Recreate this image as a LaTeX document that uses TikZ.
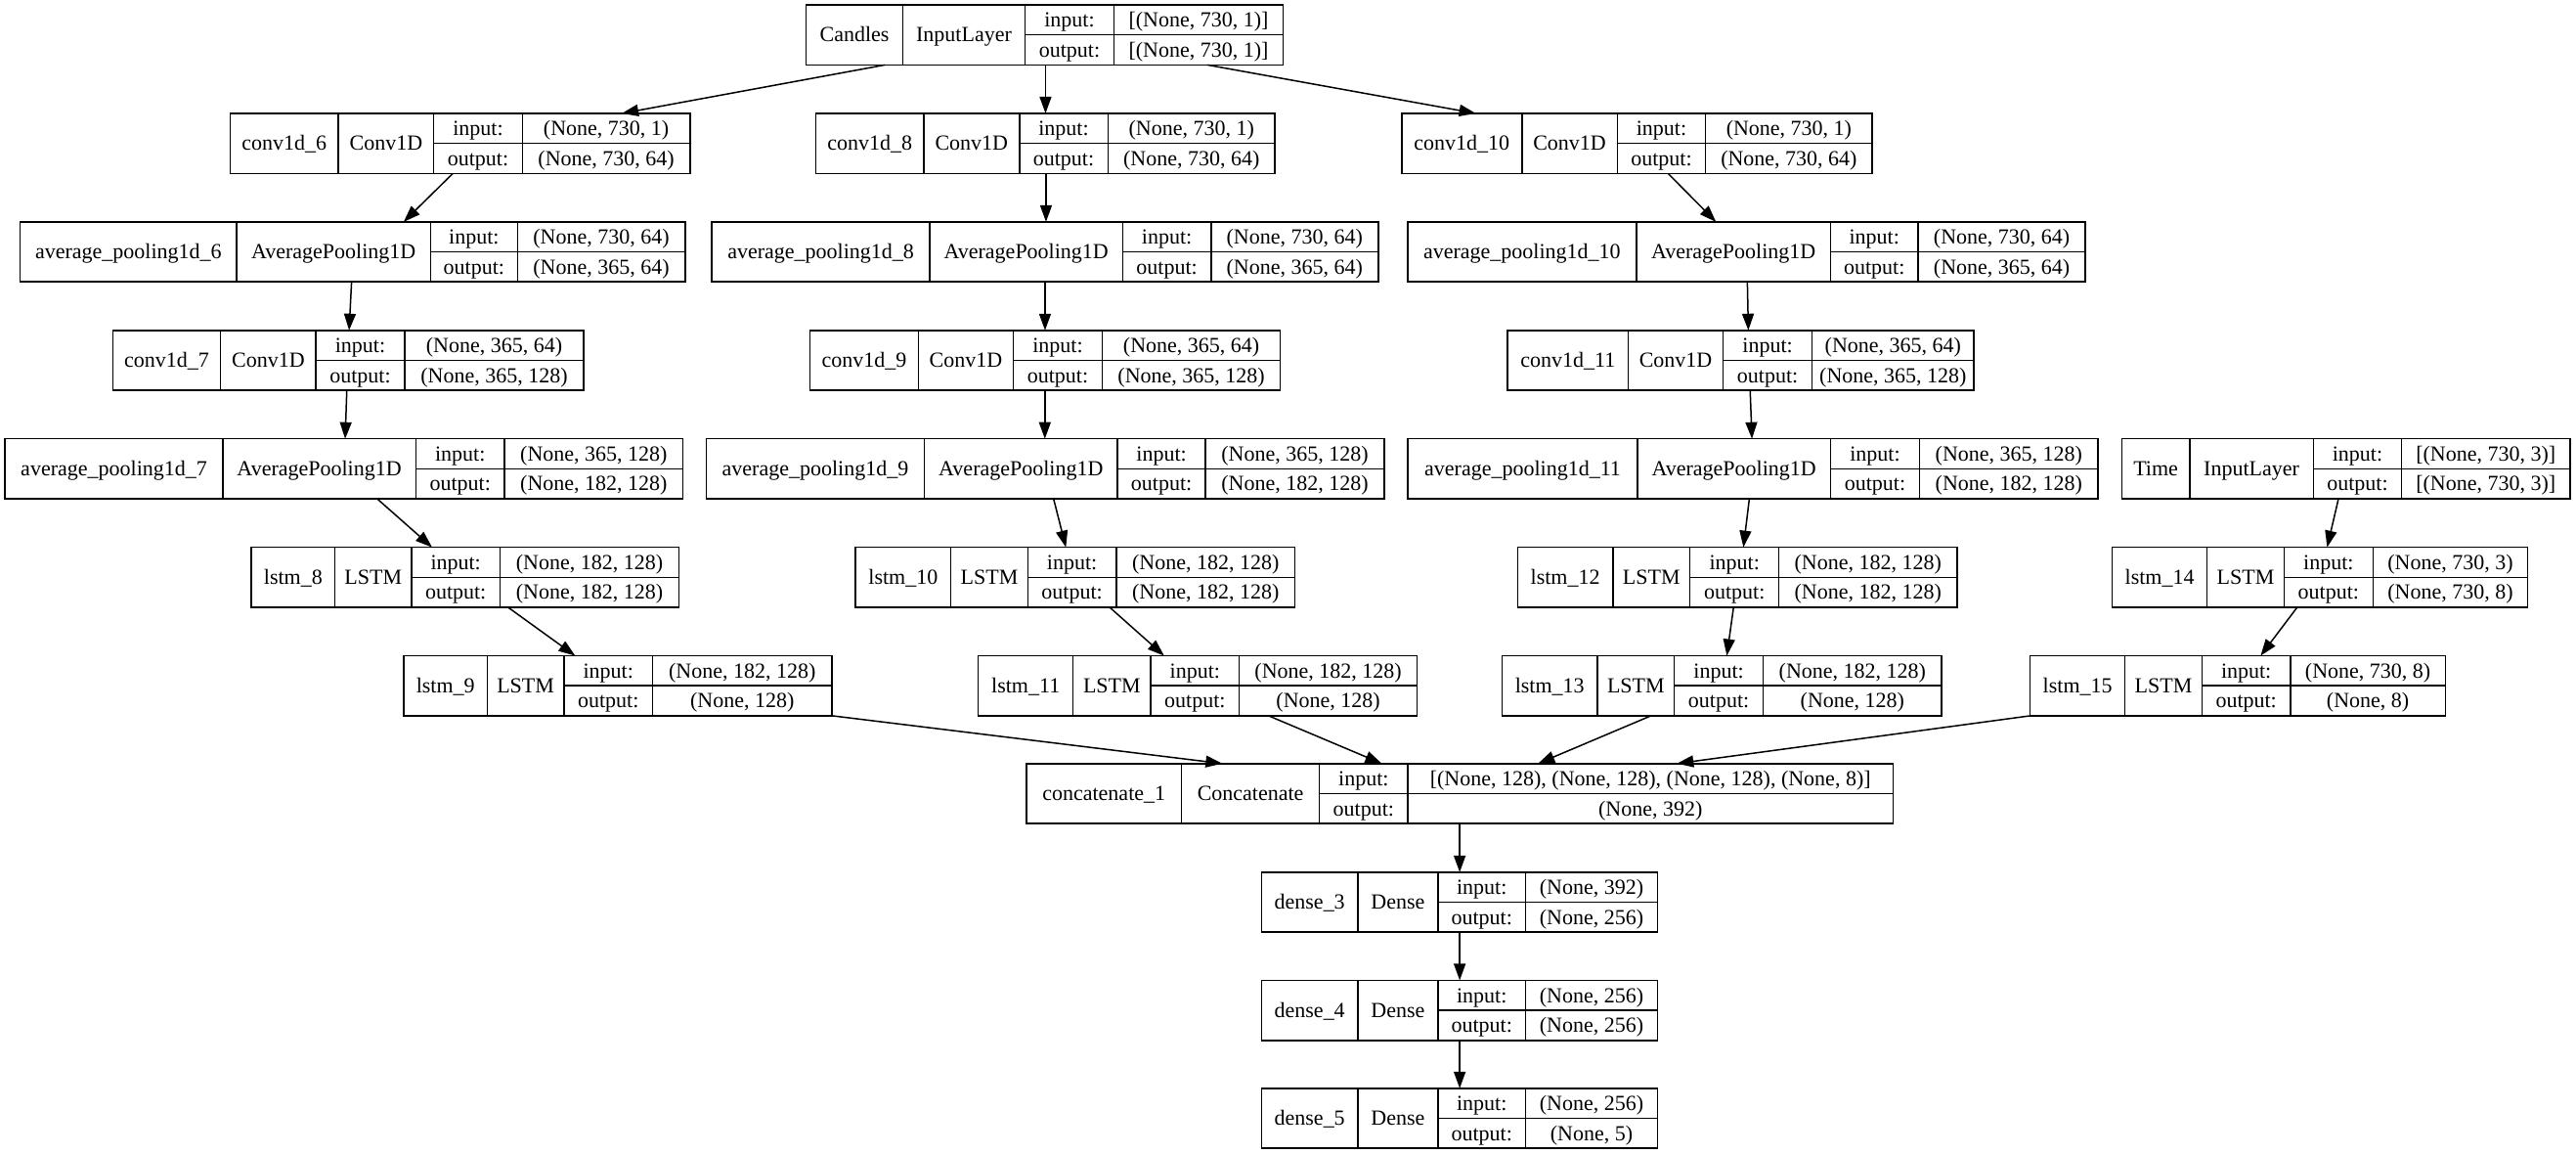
\documentclass[tikz,border=0pt]{standalone}
\usepackage{fontspec}
\setmainfont{Liberation Serif}
\usetikzlibrary{arrows.meta,calc}
\tikzset{
  box/.style={draw, line width=1.5pt, inner sep=0pt, outer sep=0pt, anchor=north west, minimum height=36.5*1.6805pt},
  txt/.style={inner sep=0pt, font=\fontsize{22}{26}\selectfont, text height=16pt, text depth=1.5pt},
  cell/.style={line width=1.5pt},
  arr/.style={line width=1.5pt, -{Triangle[length=17pt,width=12pt]}}
}
\newcommand\lay[9]{%
  \def\xa{#2}\def\xb{#3}\def\xc{#4}\def\xd{#5}\def\xe{#6}\def\lname{#1}%
  \pgfmathsetmacro\yb{#7+36.5}\pgfmathsetmacro\ym{#7+18.25}%
  \pgfmathsetmacro\yi{#7+9.125}\pgfmathsetmacro\yo{#7+27.375}%
  \node[box, minimum width={(#6-#2)*1.6805pt}] (#1) at (#2,#7) {};
  \draw[cell] (#3,#7) -- (#3,\yb) (#4,#7) -- (#4,\yb) (#5,#7) -- (#5,\yb) (#4,\ym) -- (#6,\ym);
  \node[txt] (#1-n) at ({(#2+#3)/2},\ym) {#8};
  \node[txt] (#1-c) at ({(#3+#4)/2},\ym) {#9};
  \node[txt] (#1-i) at ({(#4+#5)/2},\yi) {input:};
  \node[txt] (#1-o) at ({(#4+#5)/2},\yo) {output:};
}
\newcommand\io[2]{%
  \node[txt] (\lname-in) at ({(\xd+\xe)/2},\yi) {#1};
  \node[txt] (\lname-out) at ({(\xd+\xe)/2},\yo) {#2};
}
\newcommand\edge[4]{\draw[arr] (#1.south -| #2,0) -- (#3.north -| #4,0);}
\begin{document}
\begin{tikzpicture}[x=1.6805pt,y=-1.6805pt]
\fill[white] (0,0) rectangle (1568,702);
\useasboundingbox (0,0) rectangle (1568,702);
% row 0
\lay{candles}{490.7}{549.5}{624}{678}{781.1}{3}{Candles}{InputLayer}\io{[(None, 730, 1)]}{[(None, 730, 1)]}
% row 1
\lay{c6}{140}{206}{264}{318}{420}{69}{conv1d\_6}{Conv1D}\io{(None, 730, 1)}{(None, 730, 64)}
\lay{c8}{496.5}{562.3}{620.5}{674.4}{776.1}{69}{conv1d\_8}{Conv1D}\io{(None, 730, 1)}{(None, 730, 64)}
\lay{c10}{853.2}{926.4}{984.4}{1038.2}{1139.6}{69}{conv1d\_10}{Conv1D}\io{(None, 730, 1)}{(None, 730, 64)}
% row 2
\lay{a6}{12.3}{144}{262}{315}{417}{135}{average\_pooling1d\_6}{AveragePooling1D}\io{(None, 730, 64)}{(None, 365, 64)}
\lay{a8}{433.3}{565.9}{683.4}{737.2}{838.9}{135}{average\_pooling1d\_8}{AveragePooling1D}\io{(None, 730, 64)}{(None, 365, 64)}
\lay{a10}{856.8}{996.1}{1114.2}{1167.5}{1269.4}{135}{average\_pooling1d\_10}{AveragePooling1D}\io{(None, 730, 64)}{(None, 365, 64)}
% row 3
\lay{c7}{68.7}{134.3}{192.3}{246.3}{355.3}{201}{conv1d\_7}{Conv1D}\io{(None, 365, 64)}{(None, 365, 128)}
\lay{c9}{493}{559}{616.7}{671}{779.3}{201}{conv1d\_9}{Conv1D}\io{(None, 365, 64)}{(None, 365, 128)}
\lay{c11}{917.7}{991}{1048.9}{1103}{1201.5}{201}{conv1d\_11}{Conv1D}\io{(None, 365, 64)}{(None, 365, 128)}
% row 4
\lay{a7}{3.1}{135.6}{253.1}{307.1}{415.7}{267}{average\_pooling1d\_7}{AveragePooling1D}\io{(None, 365, 128)}{(None, 182, 128)}
\lay{a9}{429.8}{562.7}{680.2}{733.8}{842.5}{267}{average\_pooling1d\_9}{AveragePooling1D}\io{(None, 365, 128)}{(None, 182, 128)}
\lay{a11}{857}{996.7}{1114.2}{1168.4}{1277.1}{267}{average\_pooling1d\_11}{AveragePooling1D}\io{(None, 365, 128)}{(None, 182, 128)}
\lay{time}{1291.5}{1332.8}{1408.1}{1461.9}{1564.3}{267}{Time}{InputLayer}\io{[(None, 730, 3)]}{[(None, 730, 3)]}
% row 5
\lay{l8}{153}{203.9}{250.4}{304.4}{413.3}{333}{lstm\_8}{LSTM}\io{(None, 182, 128)}{(None, 182, 128)}
\lay{l10}{520.7}{578.8}{625.6}{679.5}{788.2}{333}{lstm\_10}{LSTM}\io{(None, 182, 128)}{(None, 182, 128)}
\lay{l12}{923.8}{981.7}{1028.7}{1082.8}{1191.3}{333}{lstm\_12}{LSTM}\io{(None, 182, 128)}{(None, 182, 128)}
\lay{l14}{1285.7}{1343.4}{1390.3}{1444.4}{1538.6}{333}{lstm\_14}{LSTM}\io{(None, 730, 3)}{(None, 730, 8)}
% row 6
\lay{l9}{245.9}{296.5}{343.3}{397.3}{506.3}{399}{lstm\_9}{LSTM}\io{(None, 182, 128)}{(None, 128)}
\lay{l11}{595.5}{653.2}{700.4}{754.3}{862.6}{399}{lstm\_11}{LSTM}\io{(None, 182, 128)}{(None, 128)}
\lay{l13}{914.2}{972.4}{1019.1}{1073.3}{1181.8}{399}{lstm\_13}{LSTM}\io{(None, 182, 128)}{(None, 128)}
\lay{l15}{1235.7}{1293.5}{1340.3}{1394.2}{1488.4}{399}{lstm\_15}{LSTM}\io{(None, 730, 8)}{(None, 8)}
% row 7
\lay{cat}{624.7}{719.2}{803.1}{857}{1152.2}{464.6}{concatenate\_1}{Concatenate}\io{[(None, 128), (None, 128), (None, 128), (None, 8)]}{(None, 392)}
% dense
\lay{d3}{767.8}{826.6}{875.2}{928.7}{1008.8}{530.7}{dense\_3}{Dense}\io{(None, 392)}{(None, 256)}
\lay{d4}{767.8}{826.6}{875.2}{928.7}{1008.8}{596.5}{dense\_4}{Dense}\io{(None, 256)}{(None, 256)}
\lay{d5}{767.8}{826.6}{875.2}{928.7}{1008.8}{662.2}{dense\_5}{Dense}\io{(None, 256)}{(None, 5)}
% edges
\edge{candles}{538.7}{c6}{378.5}
\edge{candles}{636.4}{c8}{636.4}
\edge{candles}{734.9}{c10}{898.3}
\edge{c6}{275.7}{a6}{245.7}
\edge{c8}{636.7}{a8}{636.7}
\edge{c10}{1015.3}{a10}{1044.5}
\edge{a6}{214}{c7}{212.5}
\edge{a8}{636.1}{c9}{636.1}
\edge{a10}{1063.6}{c11}{1064.2}
\edge{c7}{211.1}{a7}{210.1}
\edge{c9}{636}{a9}{636}
\edge{c11}{1065.3}{a11}{1066.4}
\edge{a7}{229.6}{l8}{263}
\edge{a9}{641.3}{l10}{648.8}
\edge{a11}{1064.8}{l12}{1061.2}
\edge{time}{1423.4}{l14}{1416.5}
\edge{l8}{309.2}{l9}{350.1}
\edge{l10}{675.4}{l11}{708.6}
\edge{l12}{1055.2}{l13}{1051.1}
\edge{l14}{1398.3}{l15}{1376}
\edge{l9}{506.3}{cat}{744}
\edge{l11}{772.1}{cat}{841.1}
\edge{l13}{1005}{cat}{936.2}
\edge{l15}{1236}{cat}{1020.7}
\edge{cat}{888.5}{d3}{888.5}
\edge{d3}{888.5}{d4}{888.5}
\edge{d4}{888.5}{d5}{888.5}
\end{tikzpicture}
\end{document}
